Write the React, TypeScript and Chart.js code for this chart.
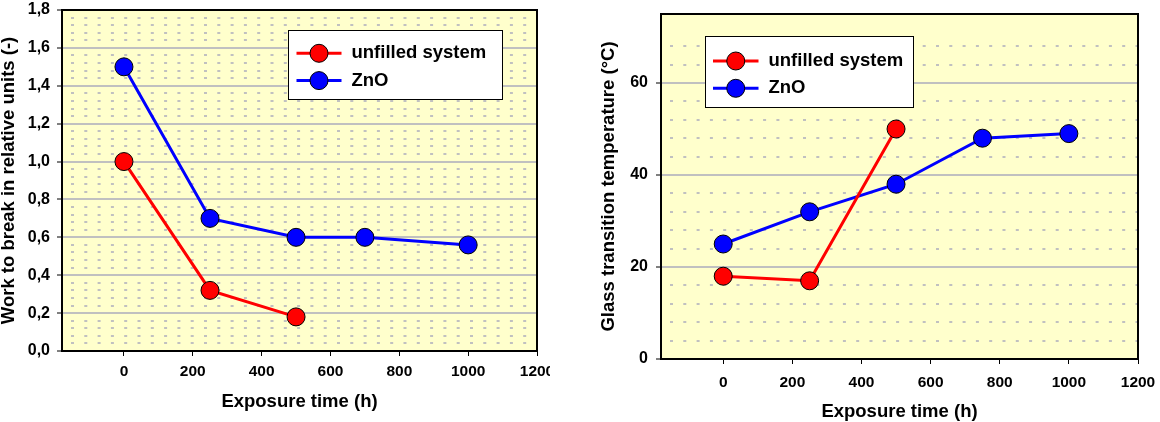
import React, { useEffect, useRef } from 'react';
import { Chart, registerables } from 'chart.js';

Chart.register(...registerables);

// ---------- data ----------
const SERIES_NAMES = ['unfilled system', 'ZnO'];

const X_TICKS = [0, 200, 400, 600, 800, 1000, 1200];
const X_TICK_LABELS = ['0', '200', '400', '600', '800', '1000', '1200'];

const LEFT_Y_TICKS = [0, 0.2, 0.4, 0.6, 0.8, 1.0, 1.2, 1.4, 1.6, 1.8];
const LEFT_Y_TICK_LABELS = ['0,0', '0,2', '0,4', '0,6', '0,8', '1,0', '1,2', '1,4', '1,6', '1,8'];

const RIGHT_Y_TICKS = [0, 20, 40, 60];
const RIGHT_Y_TICK_LABELS = ['0', '20', '40', '60'];

const LEFT_X_UNFILLED = [0, 250, 500];
const LEFT_Y_UNFILLED = [1.0, 0.32, 0.18];
const LEFT_X_ZNO = [0, 250, 500, 700, 1000];
const LEFT_Y_ZNO = [1.5, 0.7, 0.6, 0.6, 0.56];

const RIGHT_X_UNFILLED = [0, 250, 500];
const RIGHT_Y_UNFILLED = [18, 17, 50];
const RIGHT_X_ZNO = [0, 250, 500, 750, 1000];
const RIGHT_Y_ZNO = [25, 32, 38, 48, 49];

const X_TITLE = 'Exposure time (h)';
const LEFT_Y_TITLE = 'Work to break in relative units (-)';
const RIGHT_Y_TITLE = 'Glass transition temperature (°C)';

// ---------- styles ----------
const FONT = "'Liberation Sans', Arial, Helvetica, sans-serif";
const RED = '#FF0000';
const BLUE = '#0000FF';
const PLOT_BG = '#FFFFCC';
const GRID = '#C0C0C0';

const zip = (xs: number[], ys: number[]) => xs.map((x, i) => ({ x, y: ys[i] }));

const plotFrame = {
  id: 'plotFrame',
  beforeDraw(chart: any) {
    const { ctx, chartArea: a } = chart;
    ctx.save();
    ctx.fillStyle = PLOT_BG;
    ctx.fillRect(a.left, a.top, a.right - a.left, a.bottom - a.top);
    ctx.restore();
  },
  afterDatasetsDraw(chart: any) {
    const { ctx, chartArea: a } = chart;
    ctx.save();
    ctx.strokeStyle = '#000';
    ctx.lineWidth = 2;
    ctx.strokeRect(a.left, a.top, a.right - a.left, a.bottom - a.top);
    ctx.restore();
  },
};

const boxLegend = {
  id: 'boxLegend',
  afterDraw(chart: any, _args: any, opts: any) {
    const { ctx, chartArea } = chart;
    const x = Math.round(chartArea.left + opts.x);
    const y = Math.round(chartArea.top + opts.y);
    ctx.save();
    ctx.fillStyle = '#fff';
    ctx.fillRect(x, y, opts.width, opts.height);
    ctx.strokeStyle = '#000';
    ctx.lineWidth = 1;
    ctx.strokeRect(x + 0.5, y + 0.5, opts.width, opts.height);
    chart.data.datasets.forEach((ds: any, i: number) => {
      const cy = y + opts.rowY[i];
      ctx.strokeStyle = ds.borderColor;
      ctx.lineWidth = 3;
      ctx.beginPath();
      ctx.moveTo(x + opts.lineX0, cy);
      ctx.lineTo(x + opts.lineX1, cy);
      ctx.stroke();
      ctx.beginPath();
      ctx.arc(x + (opts.lineX0 + opts.lineX1) / 2, cy, 9, 0, Math.PI * 2);
      ctx.fillStyle = ds.pointBackgroundColor;
      ctx.fill();
      ctx.lineWidth = 1;
      ctx.strokeStyle = '#000';
      ctx.stroke();
      ctx.fillStyle = '#000';
      ctx.font = `bold 18.5px ${FONT}`;
      ctx.textBaseline = 'middle';
      ctx.textAlign = 'left';
      ctx.fillText(ds.label, x + opts.textX, cy);
    });
    ctx.restore();
  },
};

function makeConfig(p: any) {
  const zeroPad = (s: any) => {
    s.paddingLeft = 0;
    s.paddingRight = 0;
    s.paddingTop = 0;
    s.paddingBottom = 0;
  };
  const minorColor = (c: any) => {
    const v = c.tick ? c.tick.value : 0;
    const r = v / p.majorStep;
    return Math.abs(r - Math.round(r)) < 1e-6 ? 'rgba(0,0,0,0)' : GRID;
  };
  return {
    type: 'line',
    data: {
      datasets: [
        {
          label: SERIES_NAMES[0],
          data: zip(p.xU, p.yU),
          borderColor: RED,
          backgroundColor: RED,
          pointBackgroundColor: RED,
          pointBorderColor: '#000',
          pointBorderWidth: 1,
          pointRadius: 9,
          borderWidth: 3,
          tension: 0,
          xAxisID: 'x',
          yAxisID: 'y',
        },
        {
          label: SERIES_NAMES[1],
          data: zip(p.xZ, p.yZ),
          borderColor: BLUE,
          backgroundColor: BLUE,
          pointBackgroundColor: BLUE,
          pointBorderColor: '#000',
          pointBorderWidth: 1,
          pointRadius: 9,
          borderWidth: 3,
          tension: 0,
          xAxisID: 'x',
          yAxisID: 'y',
        },
      ],
    },
    options: {
      responsive: false,
      animation: false,
      events: [],
      layout: { padding: p.layoutPadding },
      plugins: {
        legend: { display: false },
        tooltip: { enabled: false },
        boxLegend: p.legend,
      },
      scales: {
        x: {
          type: 'linear',
          position: 'bottom',
          min: -180,
          max: 1200,
          afterBuildTicks: (s: any) => {
            s.ticks = X_TICKS.map((v) => ({ value: v }));
          },
          afterFit: (s: any) => {
            s.height = p.xAxisHeight;
            zeroPad(s);
          },
          ticks: {
            autoSkip: false,
            maxRotation: 0,
            padding: p.xTickPad,
            color: '#000',
            font: { family: FONT, size: 15.5, weight: 'bold' },
            callback: (_v: any, i: number) => X_TICK_LABELS[i],
          },
          grid: {
            drawOnChartArea: false,
            drawTicks: true,
            tickLength: 5,
            tickColor: '#000',
            tickWidth: 1,
          },
          border: { display: false },
          title: {
            display: true,
            text: X_TITLE,
            color: '#000',
            font: { family: FONT, size: 18.5, weight: 'bold' },
            padding: { top: 0, bottom: p.xTitlePad },
          },
        },
        y: {
          type: 'linear',
          position: 'left',
          min: 0,
          max: p.yMax,
          afterBuildTicks: (s: any) => {
            s.ticks = p.yTicks.map((v: number) => ({ value: v }));
          },
          afterFit: (s: any) => {
            s.width = p.yAxisWidth;
            zeroPad(s);
          },
          ticks: {
            autoSkip: false,
            padding: p.yTickPad,
            color: '#000',
            font: { family: FONT, size: 16, weight: 'bold' },
            callback: (_v: any, i: number) => p.yTickLabels[i],
          },
          grid: {
            color: GRID,
            lineWidth: 2,
            drawTicks: true,
            tickLength: 5,
            tickColor: '#000',
            tickWidth: 1,
          },
          border: { display: false },
          title: {
            display: true,
            text: p.yTitle,
            color: '#000',
            font: { family: FONT, size: 18.5, weight: 'bold' },
            padding: { top: p.yTitlePad, bottom: 0 },
          },
        },
        yMinor: {
          type: 'linear',
          position: 'left',
          min: 0,
          max: p.yMax,
          afterFit: (s: any) => {
            s.width = 0;
            zeroPad(s);
          },
          ticks: { display: false, stepSize: p.minorStep },
          grid: {
            color: minorColor,
            lineWidth: 2,
            drawTicks: false,
          },
          border: { display: false, dash: [3, 10.3], dashOffset: 4.3 },
        },
      },
    },
    plugins: [plotFrame, boxLegend],
  };
}

export default function App() {
  const leftRef = useRef<HTMLCanvasElement>(null);
  const rightRef = useRef<HTMLCanvasElement>(null);

  useEffect(() => {
    const left = new Chart(
      leftRef.current as HTMLCanvasElement,
      makeConfig({
        xU: LEFT_X_UNFILLED,
        yU: LEFT_Y_UNFILLED,
        xZ: LEFT_X_ZNO,
        yZ: LEFT_Y_ZNO,
        yMax: 1.8,
        yTicks: LEFT_Y_TICKS,
        yTickLabels: LEFT_Y_TICK_LABELS,
        majorStep: 0.2,
        minorStep: 0.04,
        yTitle: LEFT_Y_TITLE,
        layoutPadding: { left: 0, top: 7, right: 13, bottom: 0 },
        xAxisHeight: 71,
        yAxisWidth: 62,
        xTickPad: 6,
        yTickPad: 7,
        xTitlePad: 9,
        yTitlePad: -2.6,
        legend: { x: 226, y: 20, width: 214, height: 69, lineX0: 8.5, lineX1: 53.5, textX: 63.5, rowY: [23.3, 50.6] },
      }) as any
    );
    const right = new Chart(
      rightRef.current as HTMLCanvasElement,
      makeConfig({
        xU: RIGHT_X_UNFILLED,
        yU: RIGHT_Y_UNFILLED,
        xZ: RIGHT_X_ZNO,
        yZ: RIGHT_Y_ZNO,
        yMax: 75,
        yTicks: RIGHT_Y_TICKS,
        yTickLabels: RIGHT_Y_TICK_LABELS,
        majorStep: 20,
        minorStep: 4,
        yTitle: RIGHT_Y_TITLE,
        layoutPadding: { left: 0, top: 14, right: 22, bottom: 0 },
        xAxisHeight: 63,
        yAxisWidth: 81,
        xTickPad: 9,
        yTickPad: 8,
        xTitlePad: -1,
        yTitlePad: 17.4,
        legend: { x: 44, y: 22, width: 208, height: 71, lineX0: 8, lineX1: 53.5, textX: 63.5, rowY: [25, 52.3] },
      }) as any
    );
    return () => {
      left.destroy();
      right.destroy();
    };
  }, []);

  return (
    <div
      style={{
        position: 'absolute',
        left: 0,
        top: 0,
        width: 1160,
        height: 422,
        overflow: 'hidden',
        background: '#fff',
      }}
    >
      <canvas ref={leftRef} width={550} height={422} style={{ position: 'absolute', left: 0, top: 0 }} />
      <canvas ref={rightRef} width={580} height={422} style={{ position: 'absolute', left: 580, top: 0 }} />
    </div>
  );
}
